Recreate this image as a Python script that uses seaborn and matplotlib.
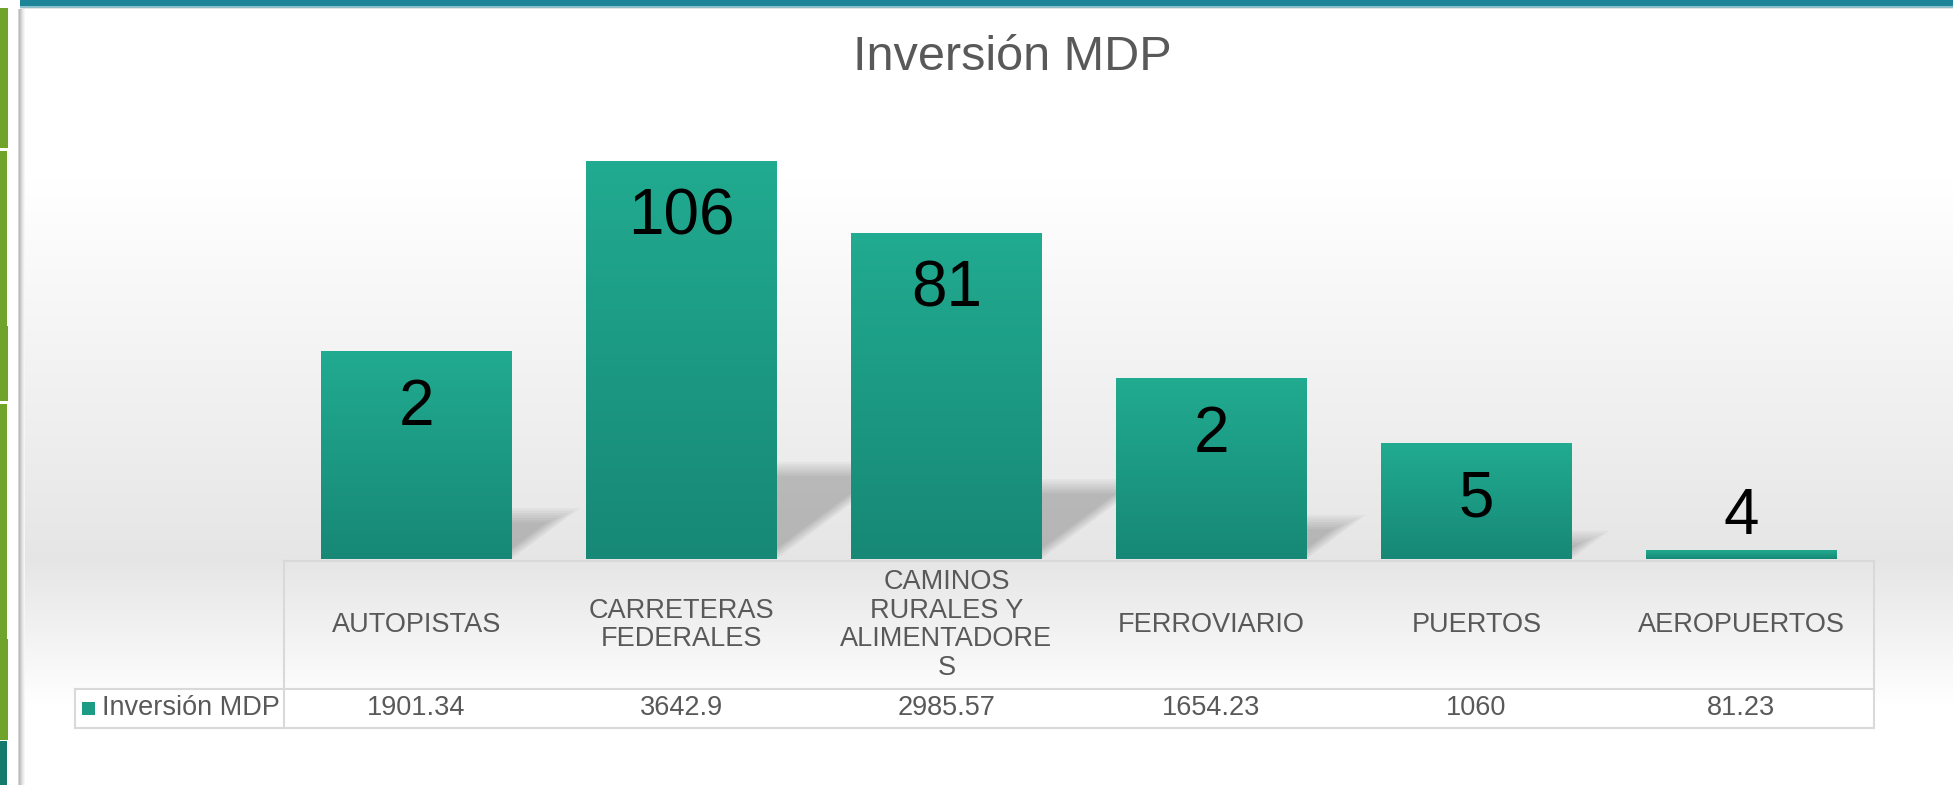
import numpy as np
import matplotlib
matplotlib.use("Agg")
import matplotlib.pyplot as plt
import seaborn as sns
from matplotlib.patches import Rectangle, Polygon
from matplotlib.colors import to_rgb
import matplotlib.transforms as mtransforms

# ---------------- data ----------------
categorias = ["AUTOPISTAS", "CARRETERAS FEDERALES", "CAMINOS RURALES Y ALIMENTADORES",
              "FERROVIARIO", "PUERTOS", "AEROPUERTOS"]
etiquetas_eje = ["AUTOPISTAS", "CARRETERAS\nFEDERALES", "CAMINOS\nRURALES Y\nALIMENTADORE\nS",
                 "FERROVIARIO", "PUERTOS", "AEROPUERTOS"]
inversion_mdp = [1901.34, 3642.9, 2985.57, 1654.23, 1060, 81.23]
inversion_txt = ["1901.34", "3642.9", "2985.57", "1654.23", "1060", "81.23"]
num_proyectos = [2, 106, 81, 2, 5, 4]
serie = "Inversión MDP"
titulo = "Inversión MDP"

# ---------------- figure ----------------
W, H = 1953, 785
sns.set_theme(style="white")
plt.rcParams["font.family"] = ["Liberation Sans", "DejaVu Sans"]

fig = plt.figure(figsize=(W / 100, H / 100), dpi=100)
fig.patch.set_facecolor("white")

bg = fig.add_axes([0, 0, 1, 1], zorder=0)
bg.axis("off")

# slide background gradient (floor effect)
rows = np.arange(H, dtype=float)
g = np.ones(H)
peak, top0, base, fade_end = 0.90, 180, 560, 705
m = (rows >= top0) & (rows <= base)
g[m] = 1 - (1 - peak) * (rows[m] - top0) / (base - top0)
m2 = (rows > base) & (rows < fade_end)
g[m2] = peak + (1 - peak) * (rows[m2] - base) / (fade_end - base)
img = np.dstack([g[:, None]] * 3)
bg.imshow(img, extent=[25, W, H, 0], aspect="auto", interpolation="bilinear", zorder=0)
bg.set_xlim(0, W)
bg.set_ylim(H, 0)

# top teal band and left decorations
bg.add_patch(Rectangle((20, 0), W - 20, 6, color="#1e8497", zorder=2, lw=0))
bg.add_patch(Rectangle((20, 6), W - 20, 1.5, color="#8dbfca", zorder=2, lw=0))
bg.add_patch(Rectangle((20, 7.5), W - 20, 1.5, color="#e4e4e4", zorder=2, lw=0))
green = "#6ea42a"
for y0, y1, w in [(8, 148, 7.5), (151, 326, 6.5), (326, 401, 7.5), (404, 639, 6.5), (639, 740, 7.5)]:
    bg.add_patch(Rectangle((0, y0), w, y1 - y0, color=green, zorder=2, lw=0))
bg.add_patch(Rectangle((0, 741), 6.5, H - 741, color="#157a6b", zorder=2, lw=0))
for k, c in enumerate(["#d4d4d4", "#bdbdbd", "#c6c6c6", "#d6d6d6", "#e4e4e4", "#eeeeee", "#f6f6f6"]):
    bg.add_patch(Rectangle((18 + k, 9), 1, H - 9, color=c, zorder=2, lw=0))

# title
bg.text(1012, 57, titulo, fontsize=35, color="#595959", ha="center", va="center", zorder=5)

# ---------------- bars ----------------
ax_l, ax_r, ax_t, ax_b = 284, 1874, 123, 559
ax = fig.add_axes([ax_l / W, (H - ax_b) / H, (ax_r - ax_l) / W, (ax_b - ax_t) / H], zorder=2)
ax.patch.set_alpha(0)
YMAX = 4000
sns.barplot(x=categorias, y=inversion_mdp, color="#1d9c85", saturation=1, width=0.717,
            ax=ax, zorder=3)
ax.set_xlim(-0.5, 5.5)
ax.set_ylim(0, YMAX)
ax.axis("off")

px_y = (ax_b - ax_t) / YMAX          # pixels per data unit (y)
px_x = (ax_r - ax_l) / 6.0           # pixels per category (x)

top_c = np.array(to_rgb("#21ab90"))
bot_c = np.array(to_rgb("#178876"))
grad = np.linspace(0, 1, 256)[:, None]
grad_img = top_c[None, None, :] * (1 - grad[:, :, None]) + bot_c[None, None, :] * grad[:, :, None]

for i, p in enumerate(ax.patches):
    x0, w, h = p.get_x(), p.get_width(), p.get_height()
    x1 = x0 + w
    p.set_facecolor("none")
    p.set_edgecolor("none")
    ax.imshow(grad_img, extent=[x0, x1, 0, h], aspect="auto", zorder=3,
              interpolation="bilinear", origin="upper")
    # floor shadow (soft parallelogram behind the bar)
    t = 0.245 * h
    s = 1.35 * t * px_y / px_x
    dy = 2.4 / px_y
    dx = 2.4 / px_x
    for k in range(7):
        tk = t - k * dy
        if tk <= 0:
            break
        xr = x1 - k * dx
        poly = Polygon([(x0, 0), (xr, 0), (xr + s * tk / t, tk), (x0 + s * tk / t, tk)],
                       closed=True, facecolor="black", alpha=0.033, lw=0, zorder=2)
        ax.add_patch(poly)
    # value label (project count)
    off = -56 if h * px_y > 100 else 33
    ax.annotate(str(num_proyectos[i]), (x0 + w / 2, h), xytext=(0, off),
                textcoords="offset pixels", ha="center", va="center",
                fontsize=46, color="black", zorder=6, annotation_clip=False)

ax.set_xlim(-0.5, 5.5)
ax.set_ylim(0, YMAX)

# ---------------- data table ----------------
line_c = "#d9d9d9"
lw = 1.5
tab_top, row_y, tab_bot, leg_l = 561, 689, 728, 75
bg.add_patch(Rectangle((leg_l, row_y), ax_r - leg_l, tab_bot - row_y, facecolor="white",
                       edgecolor="none", zorder=3))
seg = [((ax_l, tab_top), (ax_r, tab_top)),
       ((ax_l, tab_top), (ax_l, tab_bot)),
       ((ax_r, tab_top), (ax_r, tab_bot)),
       ((leg_l, row_y), (ax_r, row_y)),
       ((leg_l, tab_bot), (ax_r, tab_bot)),
       ((leg_l, row_y), (leg_l, tab_bot))]
for (xa, ya), (xb, yb) in seg:
    bg.plot([xa, xb], [ya, yb], color=line_c, lw=lw, zorder=4, solid_capstyle="projecting")

trans = mtransforms.blended_transform_factory(ax.transData, bg.transData)
for i, (lab, val) in enumerate(zip(etiquetas_eje, inversion_txt)):
    ax.text(i, 625, lab, transform=trans, ha="center", va="center", fontsize=19.5,
            color="#595959", linespacing=1.13, zorder=6, clip_on=False)
    ax.text(i, 708, val, transform=trans, ha="center", va="center", fontsize=19.5,
            color="#595959", zorder=6, clip_on=False)

bg.add_patch(Rectangle((82, 702), 13, 13, facecolor="#1d9c85", edgecolor="none", zorder=5))
bg.text(102, 708, serie, ha="left", va="center", fontsize=19.5, color="#595959", zorder=6)

fig.savefig("out.png", dpi=100)
